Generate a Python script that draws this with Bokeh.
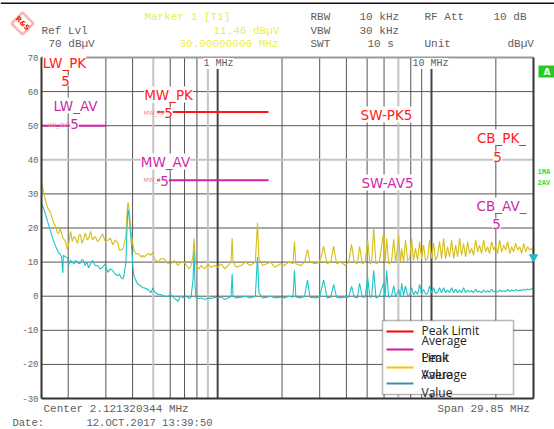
from math import log10
from bokeh.plotting import figure
from bokeh.models import Label, BoxAnnotation, PolyAnnotation, Range1d
from bokeh.embed import file_html
from bokeh.resources import INLINE

# ---------------- data (MHz, dBµV) ----------------
freq_mhz = [
    0.150, 0.153, 0.1565, 0.160, 0.1655, 0.169, 0.1725, 0.1748, 0.178, 0.1805,
    0.183, 0.186, 0.1888, 0.1898, 0.194, 0.1986, 0.2007, 0.203, 0.2051, 0.209,
    0.213, 0.2164, 0.2211, 0.225, 0.2284, 0.232, 0.2359, 0.240, 0.245, 0.249,
    0.2545, 0.260, 0.267, 0.2746, 0.282, 0.290, 0.298, 0.3063, 0.315, 0.3235,
    0.332, 0.3416, 0.347, 0.3529, 0.3606, 0.3645, 0.3725, 0.3766, 0.3806, 0.3847,
    0.3931, 0.4016, 0.406, 0.4149, 0.424, 0.4379, 0.445, 0.4522, 0.4722, 0.4876,
    0.4983, 0.5037, 0.5259, 0.5433, 0.5611, 0.5859, 0.6051, 0.625, 0.6525, 0.67,
    0.6963, 0.715, 0.7349, 0.7508, 0.7672, 0.7755, 0.784, 0.7923, 0.8183, 0.8362,
    0.87, 0.90, 0.93, 0.97, 1.00, 1.04, 1.08, 1.12, 1.155, 1.1686,
    1.18, 1.22, 1.2877, 1.35, 1.42, 1.50, 1.5356, 1.56, 1.62, 1.70,
    1.7676, 1.85, 1.9697, 2.05, 2.15, 2.25, 2.2874, 2.32, 2.4396, 2.55,
    2.6316, 2.70, 2.87, 3.00, 3.13, 3.25, 3.38, 3.487, 3.60, 3.76,
    3.95, 4.10, 4.229, 4.35, 4.50, 4.611, 4.75, 4.90, 5.028, 5.15,
    5.25, 5.366, 5.50, 5.70, 5.977, 6.07, 6.173, 6.30, 6.50, 6.655,
    6.80, 7.025, 7.15, 7.256,
    7.40, 7.56, 7.73, 7.90, 8.07, 8.24, 8.42, 8.61, 8.80, 8.99,
    9.18, 9.38, 9.59, 9.80, 10.01, 10.23, 10.45, 10.68, 10.91, 11.15,
    11.39, 11.64, 11.89, 12.15, 12.42, 12.69, 12.97, 13.25, 13.54, 13.83,
    14.13, 14.44, 14.76, 15.08, 15.41, 15.74, 16.09, 16.44, 16.79, 17.16,
    17.53, 17.92, 18.31, 18.70, 19.11, 19.53, 19.95, 20.39, 20.83, 21.29,
    21.75, 22.23, 22.71, 23.21, 23.71, 24.23, 24.76, 25.30, 25.85, 26.41,
    26.99, 27.58, 28.18, 28.79, 29.42, 30.00]

peak_dbuv = [
    33, 31, 28, 26, 24.5, 22.5, 21, 20.5, 18.5, 18.3,
    20, 18.5, 17, 17, 16, 13.5, 15, 17, 19, 16,
    17.5, 17, 15.5, 18, 18, 15.5, 16.6, 18.5, 16.5, 17,
    19, 16.5, 17.5, 16, 17, 18.3, 16, 16.4, 17, 15,
    16.5, 15.5, 13.5, 13.5, 14, 15, 18, 24, 27.5, 26,
    19, 15, 13.5, 12.5, 12.5, 11.5, 12, 11.5, 12.5, 12,
    13, 11, 10, 11, 11, 9.5, 9.5, 10.5, 9, 10,
    10, 9, 8, 9, 12, 17, 11, 9, 8, 9,
    8, 9.5, 8.5, 9, 8.5, 9.5, 8, 9, 10, 17,
    10, 8.5, 9, 10, 9, 10, 21.5, 11, 9, 9.5,
    10, 8.5, 9.5, 9, 10, 9.5, 16, 9.5, 9, 10,
    13.7, 10, 9.5, 10, 14.6, 9.5, 10, 14.6, 9.5, 10,
    9, 10, 15.2, 10, 9.5, 14.6, 9.5, 10, 16.4, 9.5,
    10, 20, 9.5, 10, 19, 10, 17, 9.5, 10, 16.7,
    10, 17.6, 10, 14,
    10, 16.5, 10.5, 11, 17, 10.5, 14, 10.5, 16, 11,
    15, 10.5, 11, 16.5, 11, 15.5, 10.5, 12, 16, 11,
    17, 11, 14.5, 11.5, 16.5, 11, 15, 11.5, 17, 12,
    15.5, 11.5, 16, 12.5, 14, 12, 16.5, 13, 15, 12.5,
    16.5, 13, 14.5, 12.5, 16, 13.5, 15, 12.5, 16.5, 13,
    15, 13.5, 16, 12.5, 14.5, 13, 15.5, 13.5, 14.5, 12.5,
    15.5, 13, 14.5, 13.5, 14, 12.5]

avg_dbuv = [
    27, 26, 24, 22, 19, 17, 15.5, 14.6, 13.5, 12.6,
    12.5, 11.5, 6.8, 12, 11.5, 11.4, 9, 10, 10.5, 10,
    9.5, 10.5, 10, 9.5, 9.8, 10.8, 10.5, 9, 10, 8.3,
    9.5, 10.5, 9, 9, 8, 8.5, 9.5, 7, 8, 7.5,
    6.5, 6, 6.5, 5.5, 5, 6, 10, 20, 25.5, 24,
    17, 8.5, 6, 4.5, 3.5, 3, 2.5, 2.5, 2, 1,
    2.5, 1.5, 0.5, 0.5, 0, 0, 0.5, -0.5, -1.5, 0,
    -0.5, 0, -0.7, -0.3, 5, 13, 3, -0.5, -0.7, -0.5,
    -1, -0.5, -0.7, -0.3, -0.5, -0.2, -1, -0.5, 0, 6.5,
    0, -0.5, -0.3, 0, -0.5, 0, 11.5, 1, -0.5, -0.3,
    0, -0.5, -0.3, -0.5, 0, -0.3, 7.6, -0.2, -0.5, 0,
    4.7, -0.3, -0.5, -0.2, 4.8, -0.5, -0.3, 3.5, -0.3, -0.5,
    -0.2, -0.3, 2.9, -0.2, -0.5, 3.8, -0.3, -0.2, 5.6, -0.3,
    -0.2, 7.6, -0.5, 0, 4, -0.3, 7.6, -0.3, 0, 3,
    -0.2, 2, -0.3, 3.8,
    0.2, 3, 0.3, 0.3, 2.5, 0.4, 1.5, 0.5, 3.5, 0.5,
    2, 0.6, 0.8, 3, 1, 2.5, 0.8, 1.2, 2.5, 1,
    2.5, 1, 1.8, 1, 2.5, 1, 2, 1, 1.8, 1,
    2.5, 1, 1.8, 1.2, 1.6, 1, 2, 1.2, 1.5, 1,
    1.8, 1.2, 1.6, 1.1, 2, 1.3, 1.6, 1.2, 1.8, 1.4,
    1.6, 1.3, 2, 1.4, 1.8, 1.5, 2, 1.6, 1.8, 1.7,
    2, 1.8, 2.1, 1.9, 2.2, 2.4]

# limit lines
lw_av_f = [0.15, 0.30]
lw_av_v = [50, 50]
mw_pk_f = [0.52, 1.73]
mw_pk_v = [54, 54]
mw_av_f = [0.52, 1.73]
mw_av_v = [34, 34]

# marker 1
marker_f = [30.0]
marker_v = [11.46]

# axis extents, ticks and grid
F_MIN, F_MAX = 0.15, 30.0
Y_MIN, Y_MAX = -30, 70
y_ticks = [-30, -20, -10, 0, 10, 20, 30, 40, 50, 60, 70]
y_grid_dark = [-20, -10, 0, 10, 20, 30, 50, 60]
y_grid_light = [40]
x_grid_dark = [0.2, 0.3, 0.4, 0.6, 0.7, 0.8, 2, 3, 4, 5, 6, 8, 9, 20]
x_grid_light = [0.5, 0.9, 7]
x_grid_thick = [1, 10]

# ---------------- layout: frame = whole canvas, plot box placed inside ----------
W, H = 554, 429
BOX_L, BOX_R, BOX_T, BOX_B = 41, 533, 57, 398
k = (log10(F_MAX) - log10(F_MIN)) / (BOX_R - BOX_L)
x_start = 10 ** (log10(F_MIN) - BOX_L * k)
x_end = 10 ** (log10(F_MAX) + (W - BOX_R) * k)
dy = (Y_MAX - Y_MIN) / (BOX_B - BOX_T)
y_end = Y_MAX + BOX_T * dy
y_start = Y_MIN - (H - BOX_B) * dy

p = figure(width=W, height=H, x_axis_type="log",
           x_range=Range1d(x_start, x_end), y_range=Range1d(y_start, y_end),
           output_backend="svg", toolbar_location=None,
           min_border=0, min_border_left=0, min_border_right=0,
           min_border_top=0, min_border_bottom=0)
p.xaxis.visible = False
p.yaxis.visible = False
p.xgrid.visible = False
p.ygrid.visible = False
p.outline_line_color = None
p.background_fill_color = "white"
p.border_fill_color = "white"

GRID = "#555555"
LIGHT = "#c4c4c4"


def vlines(xs, color, width):
    n = len(xs)
    p.segment(x0=xs, y0=[Y_MIN] * n, x1=xs, y1=[Y_MAX] * n,
              line_color=color, line_width=width)


def hlines(ys, color, width):
    n = len(ys)
    p.segment(x0=[F_MIN] * n, y0=ys, x1=[F_MAX] * n, y1=ys,
              line_color=color, line_width=width)


vlines(x_grid_dark, GRID, 1)
hlines(y_grid_dark, GRID, 1)
vlines(x_grid_light, LIGHT, 2)
hlines(y_grid_light, LIGHT, 2)
vlines(x_grid_thick, "#444444", 2)

# traces
p.line(freq_mhz, peak_dbuv, line_color="#d4be1a", line_width=1.1)
p.line(freq_mhz, avg_dbuv, line_color="#1ec3c8", line_width=1.1)

# limit lines
p.line(lw_av_f, lw_av_v, line_color="#d21fae", line_width=2)
p.line(mw_pk_f, mw_pk_v, line_color="#ff1a1a", line_width=2)
p.line(mw_av_f, mw_av_v, line_color="#d21fae", line_width=2)

# plot box border
hlines([Y_MAX], "#9a9a9a", 2)
hlines([Y_MIN], "#333333", 2)
vlines([F_MIN], "#333333", 2)
vlines([F_MAX], "#333333", 2)

p.scatter(marker_f, marker_v, marker="inverted_triangle", size=8,
          color="#20b8cc")


def lab(text, ix, iy, color="#606060", size=11, font="Liberation Mono",
        align="left", bg=None, style="normal", angle=0, y_data=False):
    p.add_layout(Label(x=ix, y=iy, x_units="canvas",
                       y_units="data" if y_data else "canvas",
                       text=text, text_color=color,
                       text_font_size=f"{size}px", text_font=font,
                       text_font_style=style, text_align=align,
                       text_baseline="middle", background_fill_color=bg,
                       angle=angle))


def box(l, t, r, b, fill, line=None, lw=1):
    p.add_layout(BoxAnnotation(left=l, right=r, top=t, bottom=b,
                               left_units="canvas", right_units="canvas",
                               top_units="canvas", bottom_units="canvas",
                               fill_color=fill, fill_alpha=1 if fill else 0,
                               line_color=line, line_width=lw))


# y tick labels
for t in y_ticks:
    lab(str(t), 38, t, color="#666666", size=9, align="right", y_data=True)

# header
box(0, 2, W, 3.5, "#111111")
YEL = "#eeee44"
lab("Marker 1 [T1]", 144, 16, YEL)
lab("Ref Lvl", 41, 30)
lab("11.46 dBµV", 213, 30, YEL)
lab("70 dBµV", 48, 43)
lab("30.00000000 MHz", 179, 43, YEL)
lab("RBW", 310, 16)
lab("10 kHz", 359, 16)
lab("RF Att", 424, 16)
lab("10 dB", 493, 16)
lab("VBW", 310, 30)
lab("30 kHz", 359, 30)
lab("SWT", 310, 43)
lab("10 s", 367, 43)
lab("Unit", 424, 43)
lab("dBµV", 507, 43)

# R&S logo
p.add_layout(PolyAnnotation(xs=[22, 33, 22, 11], ys=[12, 23, 34, 23],
                            xs_units="canvas", ys_units="canvas",
                            fill_color=None, fill_alpha=0,
                            line_color="#ee1111", line_width=2.5))
lab("R&S", 22, 23, color="#ee1111", size=7, font="DejaVu Sans", align="center",
    style="bold", angle=-0.785)

# frequency labels inside the plot
lab("1 MHz", 203, 63, bg="white", size=10)
lab("10 MHz", 412, 63, bg="white", size=10)

# limit labels
RED = "#ff2020"
MAG = "#cc2aa8"
FNT = "DejaVu Sans"
FS = 13.5
lab("LW_PK", 64, 62, RED, FS, FNT, "center", "white")
lab("5", 65, 80, RED, FS, FNT, "center", "white")
lab("LW_AV5", 47, 124, "#f08a8a", 6, FNT, "left")
lab("LW_AV", 75, 105, MAG, FS, FNT, "center", "white")
lab("5", 74, 123, MAG, FS, FNT, "center", "white")
lab("MW_PK5", 143, 112, "#f08a8a", 6, FNT, "left")
lab("MW_PK", 168, 94, RED, FS, FNT, "center", "white")
lab("5", 168, 112, RED, FS, FNT, "center", "white")
lab("MW_AV5", 143, 179, "#f08a8a", 6, FNT, "left")
lab("MW_AV", 165, 161, MAG, FS, FNT, "center", "white")
lab("5", 164, 180, MAG, FS, FNT, "center", "white")
lab("SW-PK5", 386, 114, RED, FS, FNT, "center", "white")
lab("SW-AV5", 387, 182, MAG, FS, FNT, "center", "white")
lab("CB_PK_", 501, 137, RED, FS, FNT, "center", "white")
lab("5", 497, 156, RED, FS, FNT, "center", "white")
lab("CB_AV_", 501, 205, MAG, FS, FNT, "center", "white")
lab("5", 496, 223, MAG, FS, FNT, "center", "white")

# right side indicators
box(538, 65, 554, 77, "#22cc22")
lab("A", 543, 71, "white", 9, "DejaVu Sans", "left", style="bold")
lab("1MA", 537, 171, "#33dd33", 7, "Liberation Mono", "left", style="bold")
lab("2AV", 537, 182, "#33dd33", 7, "Liberation Mono", "left", style="bold")

# footer
lab("Center 2.121320344 MHz", 43, 408)
lab("Span 29.85 MHz", 437, 408)
lab("Date:", 12, 422, size=10.5)
lab("12.OCT.2017  13:39:50", 86, 422, size=10.5)

# legend
box(382, 320, 513, 394, "white", "#111111", 1.5)
box(386, 330, 413, 332, "#ff0000")
box(386, 348, 413, 350, "#cc1aa6")
box(386, 366, 413, 368, "#ffc000")
box(386, 382, 413, 384, "#3a93a8")
LF = "Open Sans"
LC = "#222222"
lab("Peak Limit", 421, 330, LC, 12, LF)
lab("Average", 421, 340, LC, 12, LF)
lab("Limit", 421, 357, LC, 12, LF)
lab("Peak", 421, 357, LC, 12, LF)
lab("Value", 421, 374, LC, 12, LF)
lab("Average", 421, 374, LC, 12, LF)
lab("Value", 421, 392, LC, 12, LF)

open("out.html", "w").write(file_html(p, INLINE))
